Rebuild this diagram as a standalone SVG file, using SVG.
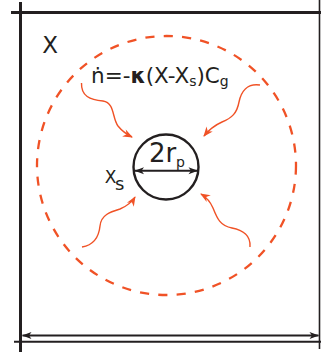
<svg xmlns="http://www.w3.org/2000/svg" width="321" height="353" viewBox="0 0 321 353">
  <defs>
    <style>
      .frame { stroke: #231f20; fill: none; }
      .dim { stroke: #231f20; stroke-width: 2; fill: none; marker-start: url(#blk); marker-end: url(#blk); }
      .flux { stroke: #f05226; stroke-width: 1.4; fill: none; marker-end: url(#org); }
      .lbl { font-family: "DejaVu Sans", "Liberation Sans", sans-serif; fill: #231f20; }
    </style>
    <marker id="org" markerUnits="userSpaceOnUse" viewBox="-10 -5 11 10" refX="0" refY="0" markerWidth="11" markerHeight="10" orient="auto">
      <path d="M1,0 L-9,-4 L-6,0 L-9,4 Z" fill="#f05226"/>
    </marker>
    <marker id="blk" markerUnits="userSpaceOnUse" viewBox="-10 -5 11 10" refX="0" refY="0" markerWidth="11" markerHeight="10" orient="auto-start-reverse">
      <path d="M0.5,0 L-9,-3.5 L-6.5,0 L-9,3.5 Z" fill="#231f20"/>
    </marker>
  </defs>

  <g id="frame">
    <line class="frame" x1="20.5" y1="2" x2="20.5" y2="352" stroke-width="3"/>
    <line class="frame" x1="11" y1="12.5" x2="321" y2="12.5" stroke-width="3"/>
    <line class="frame" x1="319.5" y1="0" x2="319.5" y2="349" stroke-width="1.6"/>
    <line class="frame" x1="14" y1="341.7" x2="321" y2="341.7" stroke-width="2"/>
  </g>

  <g id="domain-label">
    <text class="lbl" x="42.3" y="53" font-size="23">X</text>
  </g>

  <g id="boundary">
    <circle cx="166.5" cy="165.5" r="129.5" fill="none" stroke="#f05226" stroke-width="2.3" stroke-dasharray="9.2 9.2"/>
  </g>

  <g id="formula">
    <text class="lbl" x="91" y="82.5" font-size="21.5">ṅ=-<tspan font-weight="bold">κ</tspan>(X-X<tspan dy="3.5" font-size="14">s</tspan><tspan dy="-3.5">)C</tspan><tspan dy="3.5" font-size="14">g</tspan></text>
  </g>

  <g id="particle">
    <circle cx="166" cy="167" r="32.5" fill="none" stroke="#231f20" stroke-width="2.4"/>
    <text class="lbl" x="149" y="161.7" font-size="26">2r</text>
    <text class="lbl" x="176" y="167" font-size="14">p</text>
    <text class="lbl" x="104.7" y="183" font-size="17">X</text>
    <text class="lbl" x="115" y="190" font-size="18">s</text>
  </g>

  <g id="connectors">
    <line class="dim" x1="135" y1="170.7" x2="197.5" y2="170.7"/>
    <line class="dim" x1="22.5" y1="335.5" x2="318.5" y2="335.5"/>
    <path class="flux" d="M81.5,83 C81,96 90,100 103,101 C115,103 112,118 118,126 C122,131 126,134 132,137"/>
    <path class="flux" d="M260,85 C247,83 241,92 239,102 C237,113 232,118 222,122 C213,126 208,131 204,136"/>
    <path class="flux" d="M82,247 C94,245 99,236 100,226 C101,215 110,212 120,209 C127,206 132,202 135,197"/>
    <path class="flux" d="M250,247 C251,236 243,230 232,228 C220,226 217,218 213,208 C210,201 206,197 201,194"/>
  </g>
</svg>
